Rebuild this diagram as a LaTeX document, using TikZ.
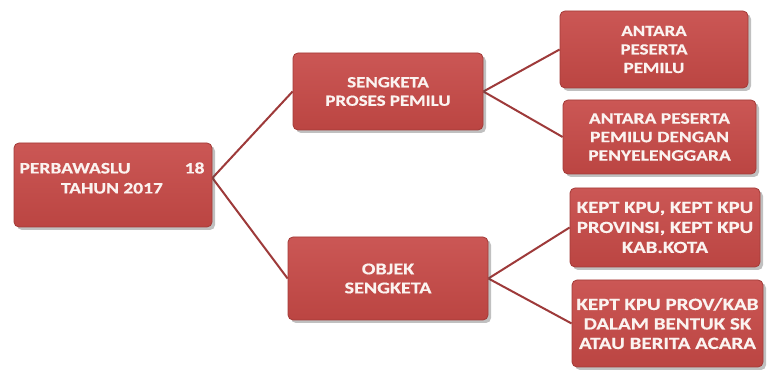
\documentclass[tikz,border=0pt]{standalone}
\usepackage{fontspec}
\setmainfont{Carlito}[FakeStretch=1.22, BoldFeatures={FakeBold=0.5}]
\usetikzlibrary{shadows,backgrounds}
\definecolor{boxtop}{HTML}{CB5755}
\definecolor{boxbot}{HTML}{BB4542}
\definecolor{boxedge}{HTML}{A33B38}
\definecolor{linkred}{HTML}{9E3A3A}
\definecolor{txt}{HTML}{FBF3F0}
\begin{document}
\begin{tikzpicture}[x=1pt,y=1pt,
  box/.style={rounded corners=5pt, top color=boxtop, bottom color=boxbot, draw=boxedge, line width=0.8pt,
    drop shadow={opacity=0.35, shadow xshift=3pt, shadow yshift=-3pt, fill=black!70},
    text=txt, font=\bfseries\fontsize{15.5}{18.5}\selectfont, align=center, inner sep=0pt},
  lbl/.style={text=txt, font=\bfseries\fontsize{16}{20}\selectfont, align=center, inner sep=0pt},
  link/.style={draw=linkred, line width=2pt}]
\useasboundingbox (0,0) rectangle (770,374);
% boxes
\node[box, minimum width=198pt, minimum height=84pt] (root) at (113,189) {};
\node[lbl] (roottext) at (112,196) {\makebox[185pt]{PERBAWASLU\hfill 18}\\TAHUN 2017};
\node[box, minimum width=190pt, minimum height=77pt] (spp) at (388,282.5) {SENGKETA\\PROSES PEMILU};
\node[box, minimum width=200pt, minimum height=83pt, font=\bfseries\fontsize{16.5}{19}\selectfont] (obj) at (388,95.5) {OBJEK\\SENGKETA};
\node[box, minimum width=188pt, minimum height=77pt] (b1) at (654,324.5) {ANTARA\\PESERTA\\PEMILU};
\node[box, minimum width=193pt, minimum height=74pt, font=\bfseries\fontsize{16}{18.5}\selectfont] (b2) at (659.5,237) {ANTARA PESERTA\\PEMILU DENGAN\\PENYELENGGARA};
\node[box, minimum width=190pt, minimum height=79pt, font=\bfseries\fontsize{17}{20}\selectfont] (b3) at (665,146.5) {KEPT KPU, KEPT KPU\\PROVINSI, KEPT KPU\\KAB.KOTA};
\node[box, minimum width=191pt, minimum height=87pt, font=\bfseries\fontsize{17.2}{19.5}\selectfont] (b4) at (667.5,50.5) {KEPT KPU PROV/KAB\\DALAM BENTUK SK\\ATAU BERITA ACARA};
\coordinate (rootout) at ([yshift=7pt]root.east);
\begin{scope}[on background layer]
\fill[white] (0,0) rectangle (770,374);
\draw[link] (rootout) -- (spp.west);
\draw[link] (rootout) -- (obj.west);
\draw[link] (spp.east) -- (b1.west);
\draw[link] (spp.east) -- (b2.west);
\draw[link] (obj.east) -- (b3.west);
\draw[link] (obj.east) -- (b4.west);
\end{scope}
\end{tikzpicture}
\end{document}
